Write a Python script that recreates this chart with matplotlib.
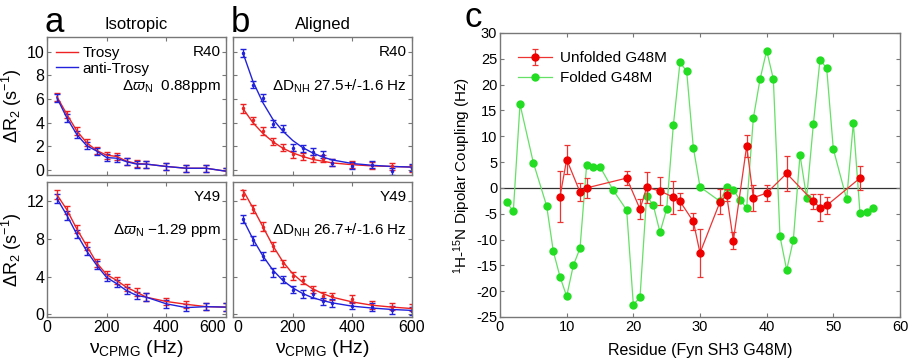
import matplotlib
matplotlib.use('Agg')
import matplotlib.pyplot as plt
import numpy as np

plt.rcParams['font.family'] = ['Liberation Sans', 'DejaVu Sans']
plt.rcParams['mathtext.fontset'] = 'custom'
plt.rcParams['mathtext.rm'] = 'Liberation Sans'
plt.rcParams['mathtext.it'] = 'Liberation Sans:italic'
plt.rcParams['mathtext.bf'] = 'Liberation Sans:bold'
plt.rcParams['axes.unicode_minus'] = False

# CPMG frequencies (Hz)
nu = [33.3, 66.7, 100, 133.3, 166.7, 200, 233.3, 266.7, 300, 333.3, 400, 466.7, 533.3, 600]

# panel a - isotropic
a_r40_trosy = [6.2, 4.7, 3.3, 2.3, 1.65, 1.25, 1.15, 0.75, 0.55, 0.5, 0.3, 0.15, 0.15, -0.1]
a_r40_anti = [6.1, 4.4, 3.0, 2.05, 1.6, 1.05, 1.0, 0.7, 0.5, 0.5, 0.3, 0.15, 0.15, -0.1]
a_y49_trosy = [12.7, 11.1, 9.05, 7.25, 5.45, 4.2, 3.6, 2.85, 2.35, 1.8, 1.35, 1.05, 0.8, 0.75]
a_y49_anti = [12.3, 10.5, 8.5, 6.7, 5.2, 3.9, 3.25, 2.5, 2.0, 1.8, 1.1, 0.7, 0.8, 0.75]

# panel b - aligned
b_r40_trosy = [5.2, 4.2, 3.3, 2.4, 1.9, 1.35, 1.15, 1.0, 0.95, 0.6, 0.5, 0.4, 0.3, 0.15]
b_r40_anti = [9.9, 7.2, 6.1, 3.9, 3.5, 1.9, 1.85, 1.55, 1.3, 0.6, 0.35, 0.45, -0.1, 0.2]
b_y49_trosy = [12.7, 11.2, 9.3, 7.2, 5.4, 4.05, 3.65, 2.6, 1.95, 1.9, 1.6, 1.0, 0.8, 0.7]
b_y49_anti = [10.1, 7.85, 6.2, 4.45, 3.7, 2.6, 2.15, 2.15, 1.35, 1.2, 0.9, 0.75, 0.45, 0.35]

# fitted curves in panel b
fit_r40_trosy = [5.2, 4.0, 3.1, 2.4, 1.85, 1.45, 1.15, 0.9, 0.75, 0.6, 0.45, 0.35, 0.3, 0.25]
fit_r40_anti = [9.9, 7.5, 5.7, 4.3, 3.3, 2.5, 1.9, 1.45, 1.1, 0.85, 0.55, 0.4, 0.3, 0.25]
fit_y49_trosy = [13.2, 11.3, 9.3, 7.3, 5.6, 4.3, 3.4, 2.7, 2.2, 1.8, 1.3, 0.95, 0.75, 0.6]
fit_y49_anti = [10.1, 8.0, 6.2, 4.7, 3.6, 2.8, 2.2, 1.75, 1.45, 1.2, 0.85, 0.65, 0.5, 0.4]

err_r40 = [0.35, 0.3, 0.3, 0.3, 0.3, 0.3, 0.3, 0.3, 0.3, 0.3, 0.3, 0.3, 0.3, 0.3]
err_y49 = [0.45, 0.45, 0.45, 0.45, 0.4, 0.4, 0.4, 0.4, 0.4, 0.4, 0.4, 0.4, 0.4, 0.4]

# panel c - dipolar couplings
green_res = [1, 2, 3, 5, 7, 8, 9, 10, 11, 12, 13, 14, 15, 17, 19, 20, 21, 22, 23, 24, 25,
             26, 27, 28, 29, 30, 33, 34, 35, 36, 37, 38, 39, 40, 41, 42, 43, 44, 45, 46,
             47, 48, 49, 50, 52, 53, 54, 55, 56]
green_val = [-2.8, -4.5, 16.2, 4.9, -3.5, -12.3, -17.2, -21.0, -15.0, -11.7, 4.5, 4.1, 4.1,
             -0.5, -4.3, -22.6, -21.2, -1.5, -3.4, -8.6, -4.1, 12.1, 24.3, 22.6, 7.8, 0.2,
             -2.6, 0.2, -0.4, -2.3, -3.9, 13.5, 21.0, 26.6, 21.1, -9.4, -15.9, -10.1, 6.4,
             -1.9, 12.3, 24.8, 23.2, 7.5, -2.2, 12.6, -4.9, -4.7, -3.9]
red_res = [9, 10, 12, 13, 19, 21, 22, 24, 26, 27, 29, 30, 33, 34, 35, 37, 38, 40, 43, 47, 48, 49, 54]
red_val = [-1.7, 5.5, -0.8, 0.0, 1.9, -4.1, 0.1, -0.6, -1.8, -2.6, -6.5, -12.6, -2.7, -1.4,
           -10.2, 8.1, -1.9, -1.0, 2.8, -2.6, -3.8, -3.4, 1.9]
red_err = [4.9, 2.8, 1.8, 2.0, 1.4, 2.0, 3.0, 2.7, 3.2, 1.6, 1.6, 4.6, 2.4, 1.2, 1.6, 2.2,
           2.5, 1.6, 3.4, 1.5, 2.6, 1.6, 2.4]

RED = '#ee2222'
BLUE = '#2222dd'
SPINE = '#777777'

fig = plt.figure(figsize=(9.08, 3.6), dpi=100)

W = 179 / 908
ax_a1 = fig.add_axes([47 / 908, 185 / 360, W, 138 / 360])
ax_a2 = fig.add_axes([47 / 908, 43 / 360, W, 135 / 360])
ax_b1 = fig.add_axes([233 / 908, 185 / 360, W, 138 / 360])
ax_b2 = fig.add_axes([233 / 908, 43 / 360, W, 135 / 360])
ax_c = fig.add_axes([500 / 908, 43 / 360, 400 / 908, 284 / 360])


def style(ax, fs):
    for s in ax.spines.values():
        s.set_color(SPINE)
        s.set_linewidth(1.0)
    ax.tick_params(direction='in', top=True, right=True, length=3, color=SPINE,
                   labelsize=fs, pad=2)


def panel(ax, y_tr, y_an, err, fit_tr=None, fit_an=None):
    ekw = dict(elinewidth=1, capsize=2.5, capthick=1)
    if fit_tr is None:
        ax.errorbar(nu, y_tr, yerr=err, color=RED, fmt='none', **ekw)
        ax.errorbar(nu, y_an, yerr=err, color=BLUE, fmt='none', **ekw)
        ax.plot(nu, y_tr, color=RED, lw=1, label='Trosy')
        ax.plot(nu, y_an, color=BLUE, lw=1, label='anti-Trosy')
    else:
        ax.errorbar(nu, y_tr, yerr=err, color=RED, fmt='.', ms=3, **ekw)
        ax.errorbar(nu, y_an, yerr=err, color=BLUE, fmt='.', ms=3, **ekw)
        ax.plot(nu, fit_tr, color=RED, lw=1)
        ax.plot(nu, fit_an, color=BLUE, lw=1)
    ax.set_xlim(0, 600)
    ax.set_xticks([0, 200, 400, 600])
    style(ax, 11.5)


panel(ax_a1, a_r40_trosy, a_r40_anti, err_r40)
panel(ax_a2, a_y49_trosy, a_y49_anti, err_y49)
panel(ax_b1, b_r40_trosy, b_r40_anti, err_r40, fit_r40_trosy, fit_r40_anti)
panel(ax_b2, b_y49_trosy, b_y49_anti, err_y49, fit_y49_trosy, fit_y49_anti)

for ax in (ax_a1, ax_b1):
    ax.set_ylim(-0.42, 11.24)
    ax.set_yticks([0, 2, 4, 6, 8, 10])
    ax.tick_params(labelbottom=False)
for ax in (ax_a2, ax_b2):
    ax.set_ylim(-0.3, 14.05)
    ax.set_yticks([0, 4, 8, 12])
    ax.set_xlabel(r'$\mathrm{\nu_{CPMG}}$ (Hz)', fontsize=14, labelpad=2)
for ax in (ax_b1, ax_b2):
    ax.tick_params(labelleft=False)

# keep the neighbouring "600" and "0" labels apart
fig.canvas.draw()
ax_a2.get_xticklabels()[-1].set_horizontalalignment('right')
ax_b2.get_xticklabels()[0].set_horizontalalignment('left')

ax_a1.set_ylabel(r'$\Delta$R$_2$ (s$^{-1}$)', fontsize=13, labelpad=2)
ax_a2.set_ylabel(r'$\Delta$R$_2$ (s$^{-1}$)', fontsize=13, labelpad=2)

ax_a1.legend(loc='upper left', frameon=False, fontsize=11, handlelength=1.4,
             handletextpad=0.3, labelspacing=0.1, borderaxespad=0.2)

for ax, name, note in [(ax_a1, 'R40', r'$\Delta\varpi_\mathrm{N}$  0.88ppm'),
                       (ax_a2, 'Y49', r'$\Delta\varpi_\mathrm{N}$ $-$1.29 ppm'),
                       (ax_b1, 'R40', r'$\Delta$D$_\mathrm{NH}$ 27.5+/-1.6 Hz'),
                       (ax_b2, 'Y49', r'$\Delta$D$_\mathrm{NH}$ 26.7+/-1.6 Hz')]:
    ax.text(0.97, 0.89, name, transform=ax.transAxes, fontsize=11, ha='right', va='center')
    ax.text(0.97, 0.64, note, transform=ax.transAxes, fontsize=11, ha='right', va='center')

ax_a1.set_title('Isotropic', fontsize=12, pad=6)
ax_b1.set_title('Aligned', fontsize=12, pad=6)
fig.text(44 / 908, 1 - 32 / 360, 'a', fontsize=25, va='baseline')
fig.text(231 / 908, 1 - 32 / 360, 'b', fontsize=25, va='baseline')
fig.text(464 / 908, 1 - 27 / 360, 'c', fontsize=25, va='baseline')

# panel c
ax_c.axhline(0, color='#333333', lw=0.9, zorder=1)
ax_c.errorbar(red_res, red_val, yerr=red_err, color='#ee3333', lw=0.9, marker='o', ms=5,
              mfc='#ee0000', mec='#ee0000', elinewidth=0.9, capsize=2.5, capthick=0.9,
              label='Unfolded G48M', zorder=3)
ax_c.errorbar(green_res, green_val, color='#66e066', lw=0.9, marker='o', ms=5,
              mfc='#22dd22', mec='#22dd22', label='Folded G48M', zorder=2)
ax_c.set_xlim(0, 60)
ax_c.set_ylim(-25, 30)
ax_c.set_xticks(range(0, 61, 10))
ax_c.set_yticks(range(-25, 31, 5))
style(ax_c, 10.5)
ax_c.set_xlabel('Residue (Fyn SH3 G48M)', fontsize=11.5, labelpad=7)
ax_c.set_ylabel(r'$^1$H-$^{15}$N Dipolar Coupling (Hz)', fontsize=11, labelpad=2)
ax_c.legend(loc='upper left', frameon=False, fontsize=11, handlelength=2.2,
            handletextpad=0.5, labelspacing=0.4, borderaxespad=0.8)

fig.savefig('out.png', dpi=100)
